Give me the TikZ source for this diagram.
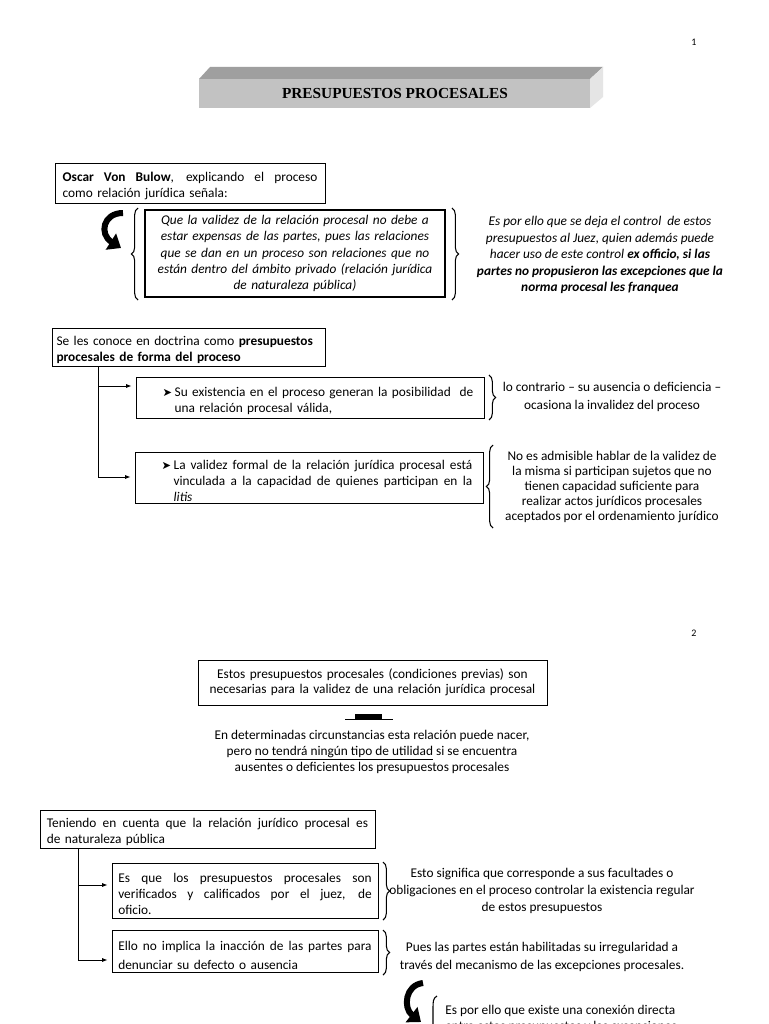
\documentclass[tikz,border=0pt]{standalone}
\usepackage{fontspec}
\setmainfont{Carlito}
\newfontfamily\timesf{Liberation Serif}
\newfontfamily\dejavu{DejaVu Sans}
\usetikzlibrary{decorations.pathreplacing,arrows.meta,calc}
\newcommand\jl[1]{\par\noindent\hbox to\hsize{\spaceskip=.23em plus 3em minus .05em\relax #1}\par}
\newcommand\lastl[1]{\par\noindent\hbox to\hsize{#1\hfil}\par}
\newcommand\bul{{\dejavu\fontsize{8.5}{8.5}\selectfont ➤}}
\begin{document}
\begin{tikzpicture}[x=0.75pt,y=-0.75pt,
  body/.style={font=\fontsize{10}{12}\selectfont},
  box/.style={draw, line width=0.7pt, inner sep=0pt, body},
  free/.style={inner sep=0pt, align=center, body},
  brace/.style={decorate, line width=0.8pt, decoration={brace, amplitude=5pt}},
  bigcurve/.style={line width=4.5pt, -{Triangle[length=9pt,width=14pt]}},
  link/.style={line width=0.6pt, -{Latex[length=4pt,width=3pt]}},
  trunk/.style={line width=0.6pt},
  pnum/.style={inner sep=0pt, font=\fontsize{7.5}{9}\selectfont}]
\clip (0,0) rectangle (768,1024);
\fill[white] (0,0) rectangle (768,1024);

% page numbers
\node[pnum] (p1) at (694,42) {1};
\node[pnum] (p2) at (694,633) {2};

% title bar
\fill[gray!75] (199,79) -- (210,67) -- (603,67) -- (590,79) -- cycle;
\fill[gray!20] (590,79) -- (603,67) -- (603,97) -- (590,108) -- cycle;
\fill[gray!48] (199,79) rectangle (590,108);
\node[inner sep=0pt, font=\timesf\bfseries\fontsize{11.5}{13}\selectfont] (title) at (395,93) {PRESUPUESTOS PROCESALES};

% section 1
\node[box, minimum width=202.5pt, minimum height=30pt, text width=191pt] (A) at (190,183)
 {\jl{\textbf{Oscar Von Bulow}, explicando el proceso}\lastl{como relación jurídica señala:}};
\draw[bigcurve] (123,213) .. controls (103,213) and (99,234) .. (121,248);
\node[box, line width=1.1pt, minimum width=225pt, minimum height=65.25pt, text width=215pt, align=center, font=\itshape\fontsize{10}{12.3}\selectfont] (B) at (295,253.5)
 {Que la validez de la relación procesal no debe a\\estar expensas de las partes, pues las relaciones\\que se dan en un proceso son relaciones que no\\están dentro del ámbito privado (relación jurídica\\de naturaleza pública)};
\draw[brace] (138,300) -- (138,208);
\draw[brace] (452,208) -- (452,300);
\node[free, font=\itshape\fontsize{10}{12.4}\selectfont] (C) at (600,255)
 {Es por ello que se deja el control~ de estos\\presupuestos al Juez, quien además puede\\hacer uso de este control \textbf{ex officio, si las}\\\textbf{partes no propusieron las excepciones que la}\\\textbf{norma procesal les franquea}};

% section 2
\node[box, minimum width=204.75pt, minimum height=28.5pt, text width=198pt] (D) at (188.5,347)
 {\lastl{Se les conoce en doctrina como \textbf{presupuestos}}\lastl{\textbf{procesales de forma del proceso}}};
\node[box, minimum width=261pt, minimum height=30.75pt, text width=245pt] (E) at (310,397.5)
 {\jl{\hspace*{12pt}\makebox[9pt][l]{\bul}Su existencia en el proceso generan la posibilidad~ de}\lastl{\hspace*{21pt}una relación procesal válida,}};
\node[box, minimum width=261pt, minimum height=38.25pt, text width=245pt] (F) at (309,477.5)
 {\jl{\hspace*{12pt}\makebox[9pt][l]{\bul}La validez formal de la relación jurídica procesal está}\jl{\hspace*{21pt}vinculada a la capacidad de quienes participan en la}\lastl{\hspace*{21pt}\textit{litis}}};
\coordinate (d0) at (98,366);
\coordinate (d1) at (98,386);
\coordinate (d2) at (98,477);
\draw[trunk] (d0) -- (d2);
\draw[link] (d1) -- ($(E.west |- d1)+(-4,0)$);
\draw[link] (d2) -- ($(F.west |- d2)+(-4,0)$);
\draw[brace] (489,375) -- (489,420);
\node[free, font=\fontsize{10}{13}\selectfont] (G1) at (612,397)
 {lo contrario -- su ausencia o deficiencia --\\ocasiona la invalidez del proceso};
\draw[brace] (493,528) -- (493,445);
\node[free, font=\fontsize{10}{11.3}\selectfont] (G2) at (612,487)
 {No es admisible hablar de la validez de\\la misma si participan sujetos que no\\tienen capacidad suficiente para\\realizar actos jurídicos procesales\\aceptados por el ordenamiento jurídico};

% section 3
\node[box, minimum width=261.75pt, minimum height=33.75pt, align=center, text width=255pt, font=\fontsize{10}{11.5}\selectfont] (H) at (372.5,682.5)
 {Estos presupuestos procesales (condiciones previas) son\\necesarias para la validez de una relación jurídica procesal};
\draw[line width=0.5pt] (345,719) -- (393,719);
\fill (355,713.5) rectangle (382,720);
\node[free, font=\fontsize{10}{11.7}\selectfont] (Ht) at (372,752)
 {En determinadas circunstancias esta relación puede nacer,\\pero \underline{no tendrá ningún tipo de utilidad} si se encuentra\\ausentes o deficientes los presupuestos procesales};

% section 4
\node[box, minimum width=251.25pt, minimum height=28.5pt, text width=241pt] (I) at (207.5,829)
 {\jl{Teniendo en cuenta que la relación jurídico procesal es}\lastl{de naturaleza pública}};
\node[box, minimum width=199.5pt, minimum height=41.25pt, text width=190pt] (J) at (245,890.5)
 {\jl{Es que los presupuestos procesales son}\jl{verificados y calificados por el juez, de}\lastl{oficio.}};
\node[box, minimum width=199.5pt, minimum height=31.5pt, text width=190pt, font=\fontsize{10}{14}\selectfont] (K) at (245,951)
 {\jl{Ello no implica la inacción de las partes para}\lastl{denunciar su defecto o ausencia}};
\coordinate (i0) at (78,848);
\coordinate (i1) at (78,885);
\coordinate (i2) at (78,960);
\draw[trunk] (i0) -- (i2);
\draw[link] (i1) -- ($(J.west |- i1)+(-4,0)$);
\draw[link] (i2) -- ($(K.west |- i2)+(-4,0)$);
\draw[brace] (383,862) -- (383,920);
\draw[brace] (383,930) -- (383,975);
\node[free, font=\fontsize{10}{12.5}\selectfont] (Jt) at (542,891)
 {Esto significa que corresponde a sus facultades o\\obligaciones en el proceso controlar la existencia regular\\de estos presupuestos};
\node[free, font=\fontsize{10}{14}\selectfont] (Kt) at (542,957)
 {Pues las partes están habilitadas su irregularidad a\\través del mecanismo de las excepciones procesales.};

% bottom
\draw[bigcurve] (423,983) .. controls (405,985) and (403,1008) .. (421,1022);
\draw[line width=0.8pt] (437,996) .. controls (433,998) and (433,1002) .. (433,1008) -- (433,1030);
\node[free, anchor=west, align=left, font=\fontsize{10}{12}\selectfont] (Lt) at (445,1019)
 {Es por ello que existe una conexión directa\\entre estos presupuestos y las excepciones};
\end{tikzpicture}
\end{document}
